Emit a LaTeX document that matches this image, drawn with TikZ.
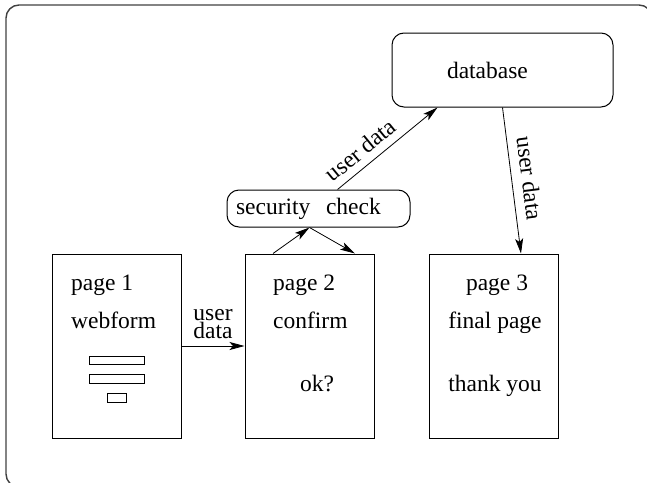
\documentclass[tikz,border=0pt]{standalone}
\usepackage{fontspec}
\setmainfont{Liberation Serif}
\usepackage{tikz}
\usetikzlibrary{arrows.meta}

\begin{document}
\begin{tikzpicture}[x=1pt, y=-1pt,
		every node/.style={font=\fontsize{23.5}{18}\selectfont},
		pagebox/.style={draw, line width=1pt, minimum width=129pt, minimum height=184pt, inner sep=0pt},
		roundbox/.style={draw, line width=1pt, rounded corners=12pt, align=left},
		flow/.style={-{Stealth[length=15pt, width=8pt, inset=3.5pt]}, line width=0.8pt}]
	\useasboundingbox (0,0) rectangle (647,482);
	
	% Frame
	\draw[line width=1.4pt, black!75, rounded corners=13pt] (6,5) rectangle (652,487);
	
	% Pages
	\node[pagebox] (page1) at (116.5,346) {};
	\node[pagebox] (page2) at (309.5,346) {};
	\node[pagebox] (page3) at (493.5,346) {};
	
	% Page 1 with the form fields
	\node[anchor=base west, inner sep=0pt] (webtitle) at (71,290) {page 1};
	\node[anchor=base west, inner sep=0pt] (webform) at (71,328) {webform};
	\draw[line width=0.8pt] (89,356) rectangle (144,364);
	\draw[line width=0.8pt] (89,374) rectangle (144,383);
	\draw[line width=0.8pt] (107,393) rectangle (126,402);
	
	% Page 2
	\node[anchor=base west, inner sep=0pt] (conftitle) at (273,290) {page 2};
	\node[anchor=base west, inner sep=0pt] (confirm) at (273,328) {confirm};
	\node[anchor=base west, inner sep=0pt] (okq) at (300,391) {ok?};
	
	% Page 3
	\node[anchor=base, inner sep=0pt] (finaltitle) at (497,290) {page 3};
	\node[anchor=base, inner sep=0pt] (finalpage) at (495,328) {final page};
	\node[anchor=base, inner sep=0pt] (thanks) at (495,391) {thank you};
	
	% Security check and database
	\node[roundbox, text width=165pt, inner xsep=9pt, minimum height=37pt] (security) at (318.5,208.5) {security\ \ check};
	\node[roundbox, text width=111pt, inner xsep=55pt, minimum height=74pt] (database) at (502.5,70) {database};
	
	% Page 1 to page 2
	\draw[flow] (page1.east) -- (page2.west) node[midway, above=7pt, align=center, inner sep=0pt] (formdata) {user\\data};
	
	% Through the security check
	\draw[flow] ([xshift=-36.5pt]page2.north) -- (security.south -| page2.north);
	\draw[flow] (security.south -| page2.north) -- ([xshift=45.5pt]page2.north);
	
	% To the database and on to page 3
	\draw[flow] ([xshift=19pt]security.north) -- ([xshift=-65pt]database.south) node[pos=0.33, sloped, above=4pt] (storedata) {user data};
	\draw[flow] (database.south) -- ([xshift=27.5pt]page3.north) node[midway, sloped, above=6pt] (readdata) {user data};
\end{tikzpicture}
\end{document}
